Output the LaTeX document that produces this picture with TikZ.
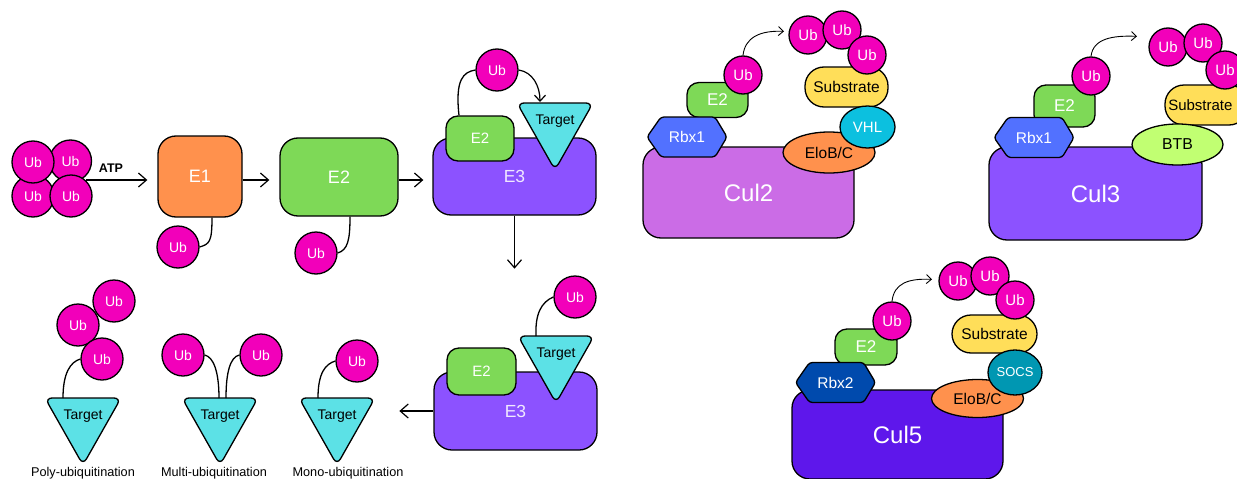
\documentclass[tikz,border=0pt]{standalone}
\usepackage{fontspec}
\setmainfont{Liberation Sans}
\usetikzlibrary{arrows.meta,calc,shapes.geometric}
\definecolor{ubc}{RGB}{242,0,186}
\definecolor{eone}{RGB}{255,145,77}
\definecolor{etwo}{RGB}{126,217,87}
\definecolor{ethree}{RGB}{140,82,255}
\definecolor{tgt}{RGB}{92,225,230}
\definecolor{cultwo}{RGB}{203,108,230}
\definecolor{rbxone}{RGB}{82,113,255}
\definecolor{rbxtwo}{RGB}{0,74,173}
\definecolor{subs}{RGB}{255,222,89}
\definecolor{vhl}{RGB}{12,192,223}
\definecolor{culfive}{RGB}{94,23,235}
\definecolor{socs}{RGB}{0,151,178}
\definecolor{btb}{RGB}{193,255,114}
\definecolor{lav}{RGB}{240,232,255}
\newcommand\fsz[1]{\fontsize{#1}{#1}\selectfont}
\tikzset{
  ol/.style={draw=black, line width=1.3pt},
  ub/.style={ol, circle, fill=ubc, minimum size=42pt, inner sep=0pt, text=white, font=\fsz{14}},
  ubp/.style={ub, minimum size=38pt, font=\fsz{15}},
  rbox/.style={ol, rectangle, inner sep=0pt},
  oval/.style={ol, ellipse, inner sep=0pt},
  arr/.style={line width=1.2pt, -{Straight Barb[length=8pt,width=14pt]}},
  thinarr/.style={line width=0.9pt, -{Straight Barb[length=5pt,width=9pt]}},
  teth/.style={line width=1.3pt},
  lab/.style={font=\fsz{12.7}, text=black},
}
% inverted rounded triangle: name, top-centre point
\newcommand\tgtshape[2]{%
  \coordinate (#1) at #2;
  \draw[ol, fill=tgt, rounded corners=7pt] ($(#1)+(-38,0)$) -- ($(#1)+(38,0)$) -- ($(#1)+(0,67)$) -- cycle;
  \node[font=\fsz{14}] (#1-t) at ($(#1)+(0,18)$) {Target};}
% hexagon: name, centre, colour, text
\newcommand\hexshape[4]{%
  \coordinate (#1) at #2;
  \draw[ol, fill=#3, rounded corners=3pt] ($(#1)+(-40,0)$) -- ($(#1)+(-26,-20)$) -- ($(#1)+(28,-20)$) -- ($(#1)+(40,0)$) -- ($(#1)+(28,20)$) -- ($(#1)+(-26,20)$) -- cycle;
  \node[text=white, font=\fsz{15.5}] (#1-t) at #2 {#4};}
\begin{document}
\begin{tikzpicture}[x=1pt,y=-1pt]
\path[use as bounding box, fill=white] (0,0) rectangle (1237,479);
\clip (0,0) rectangle (1237,479);

% ---------- ubiquitin cluster ----------
\node[ub] (c3) at (33,196) {Ub};
\node[ub] (c2) at (70.5,161) {Ub};
\node[ub] (c1) at (33,162) {Ub};
\node[ub] (c4) at (71,196) {Ub};
\node[font=\bfseries\fsz{12.5}] (atp) at (111,168) {ATP};
\coordinate (a0) at (86,180);

% ---------- E1 / E2 ----------
\node[rbox, fill=eone, rounded corners=18pt, minimum width=84pt, minimum height=81pt, text=white, font=\fsz{18}] (e1) at (200,176.5) {E1};
\node[rbox, fill=etwo, rounded corners=18pt, minimum width=118pt, minimum height=78pt, text=white, font=\fsz{18}] (e2) at (339,177) {E2};
\node[ub] (u1) at (178,247) {Ub};
\node[ub] (u2) at (316,253) {Ub};
\draw[teth] ($(e1.south)+(12,0)$) .. controls +(0,24) and +(10,-3) .. (u1.east);
\draw[teth] ($(e2.south)+(11,0)$) .. controls +(0,24) and +(10,-3) .. (u2.east);

% ---------- E3 (top) ----------
\node[rbox, fill=ethree, rounded corners=18pt, minimum width=163pt, minimum height=77pt, text=lav, font=\fsz{17.5}] (e3a) at (514.5,176.5) {E3};
\node[rbox, fill=etwo, rounded corners=12pt, minimum width=68pt, minimum height=45pt, text=white, font=\fsz{15}] (e2s) at (480,138.5) {E2};
\tgtshape{t1}{(555,103)}
\node[ub] (u3) at (497,70) {Ub};
\draw[teth] ($(e2s.north)+(-21,0)$) .. controls +(-4,-36) and +(-12,2) .. (u3.west);
\draw[line width=1.2pt, -{Straight Barb[length=6pt,width=11pt]}] (u3.east) .. controls +(14,2) and +(0,-16) .. ($(t1)+(-15,-1)$);

% ---------- E3 (bottom) ----------
\node[rbox, fill=ethree, rounded corners=18pt, minimum width=163pt, minimum height=78pt, text=lav, font=\fsz{17.5}] (e3b) at (515.5,411) {E3};
\node[rbox, fill=etwo, rounded corners=12pt, minimum width=69pt, minimum height=47pt, text=white, font=\fsz{15}] (e2b) at (481.5,371.5) {E2};
\tgtshape{t2}{(556,336)}
\node[ub] (u4) at (575,297) {Ub};
\draw[teth] ($(t2)+(-20,0)$) .. controls +(-1,-22) and +(-12,5) .. (u4.west);

% ---------- arrows of the cascade ----------
\draw[arr, shorten >=10pt] (a0) -- (a0 -| e1.west);
\draw[arr, shorten >=10pt] (e1.east |- a0) -- (e2.west |- a0);
\draw[arr, shorten >=9pt] (e2.east |- a0) -- (e3a.west |- a0);
\draw[arr] (e3a.south) -- ++(0,53);
\draw[arr] (e3b.west) -- ++(-34,0);

% ---------- outcome types ----------
\tgtshape{tp}{(83,398)}
\tgtshape{tm}{(220,398)}
\tgtshape{tmo}{(337,398)}
\node[ub] (u5) at (114,301) {Ub};
\node[ub] (u6) at (78,325) {Ub};
\node[ub] (u7) at (102,359) {Ub};
\draw[teth] ($(tp)+(-20,0)$) .. controls +(0,-25) and +(-10,3) .. (u7.west);
\node[ub] (u8) at (183,355) {Ub};
\node[ub] (u9) at (261,355) {Ub};
\draw[teth] ($(tm)+(-1,0)$) .. controls +(0,-26) and +(9,2) .. (u8.east);
\draw[teth] ($(tm)+(6,0)$) .. controls +(0,-26) and +(-9,2) .. (u9.west);
\node[ub] (u10) at (357,361) {Ub};
\draw[teth] ($(tmo)+(-19,0)$) .. controls +(0,-25) and +(-10,3) .. (u10.west);
\node[lab] (lp) at (83,473) {Poly-ubiquitination};
\node[lab] (lm) at (214,473) {Multi-ubiquitination};
\node[lab] (lmo) at (348,473) {Mono-ubiquitination};

% ---------- Cul2 complex ----------
\node[rbox, fill=cultwo, rounded corners=18pt, minimum width=211pt, minimum height=91pt, text=white, font=\fsz{24}] (cul2) at (748.5,192.5) {Cul2};
\node[rbox, fill=etwo, rounded corners=12pt, minimum width=61pt, minimum height=35pt, text=white, font=\fsz{17}] (k2e2) at (717.5,100) {E2};
\hexshape{k2rbx}{(687,137)}{rbxone}{Rbx1}
\node[ubp] (k2u) at (743,75) {Ub};
\draw[thinarr] (k2u.north) .. controls +(2,-18) and +(-24,-1) .. ++(41,-24);
\node[rbox, fill=subs, rounded corners=19pt, minimum width=83pt, minimum height=40pt, font=\fsz{15.5}] (k2s) at (846.5,87) {Substrate};
\node[oval, fill=eone, minimum width=92pt, minimum height=41pt, font=\fsz{15.5}] (k2elo) at (829,152.5) {EloB/C};
\node[oval, fill=vhl, minimum width=55pt, minimum height=42pt, text=white, font=\fsz{15}] (k2vhl) at (867.5,127) {VHL};
\node[ubp] (k2a) at (808,35) {Ub};
\node[ubp] (k2b) at (842,30) {Ub};
\node[ubp] (k2c) at (867,55) {Ub};

% ---------- Cul3 complex ----------
\node[rbox, fill=ethree, rounded corners=18pt, minimum width=213pt, minimum height=93pt, text=white, font=\fsz{24}] (cul3) at (1095.5,193.5) {Cul3};
\node[rbox, fill=etwo, rounded corners=12pt, minimum width=61pt, minimum height=42pt, text=white, font=\fsz{17}] (k3e2) at (1064.5,106) {E2};
\hexshape{k3rbx}{(1034,137.5)}{rbxone}{Rbx1}
\node[ubp] (k3u) at (1091,76) {Ub};
\draw[thinarr] (k3u.north) .. controls +(2,-18) and +(-24,-1) .. ++(46,-20);
\node[rbox, fill=subs, rounded corners=19pt, minimum width=83pt, minimum height=40pt] (k3s) at (1206.5,105) {};
\node[font=\fsz{15}, anchor=east] (k3st) at (1236,105) {Substrate};
\node[oval, fill=btb, minimum width=91pt, minimum height=41pt, font=\fsz{15.8}] (k3btb) at (1177.5,144.5) {BTB};
\node[ubp] (k3a) at (1168,47) {Ub};
\node[ubp] (k3b) at (1203,43) {Ub};
\node[ubp] (k3c) at (1225,70) {Ub};

% ---------- Cul5 complex ----------
\node[rbox, fill=culfive, rounded corners=18pt, minimum width=211pt, minimum height=89pt, text=white, font=\fsz{24}] (cul5) at (897.5,434.5) {Cul5};
\node[rbox, fill=etwo, rounded corners=12pt, minimum width=62pt, minimum height=36pt, text=white, font=\fsz{17}] (k5e2) at (866,347) {E2};
\hexshape{k5rbx}{(835.5,382.5)}{rbxtwo}{Rbx2}
\node[ubp] (k5u) at (892,321) {Ub};
\draw[thinarr] (k5u.north) .. controls +(2,-18) and +(-24,-1) .. ++(40,-22);
\node[rbox, fill=subs, rounded corners=19pt, minimum width=85pt, minimum height=38pt, font=\fsz{15.5}] (k5s) at (994.5,334) {Substrate};
\node[oval, fill=eone, minimum width=92pt, minimum height=38pt, font=\fsz{15.5}] (k5elo) at (977.5,398.5) {EloB/C};
\node[oval, fill=socs, minimum width=54pt, minimum height=45pt, text=white, font=\fsz{13}] (k5socs) at (1015,372.5) {SOCS};
\node[ubp] (k5a) at (958,281) {Ub};
\node[ubp] (k5b) at (990,276) {Ub};
\node[ubp] (k5c) at (1015,300) {Ub};
\end{tikzpicture}
\end{document}
